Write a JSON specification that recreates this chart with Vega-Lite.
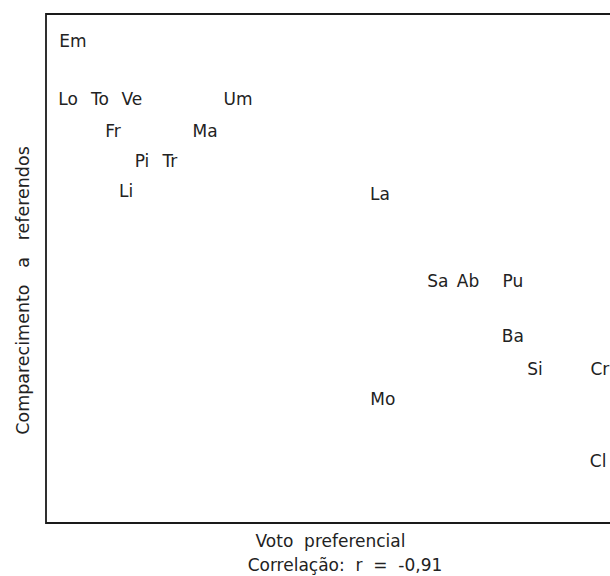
{
  "$schema": "https://vega.github.io/schema/vega-lite/v6.json",
  "width": 568,
  "height": 509,
  "autosize": {"type": "none"},
  "padding": {"left": 46, "top": 14, "right": 0, "bottom": 53},
  "background": "white",
  "config": {
    "view": {"stroke": "#1a1a1a", "strokeWidth": 1.8},
    "font": "DejaVu Sans"
  },
  "title": {
    "text": "Correlação:\u00a0\u00a0r\u00a0\u00a0=\u00a0\u00a0-0,91",
    "orient": "bottom", "anchor": "middle", "dx": 15, "offset": 9,
    "font": "DejaVu Sans", "fontSize": 17, "fontWeight": "normal", "color": "#222"
  },
  "data": {
    "values": [
      {"regiao": "Em", "voto": 4.75, "comparecimento": 94.5},
      {"regiao": "Lo", "voto": 3.9, "comparecimento": 83.1},
      {"regiao": "To", "voto": 9.5, "comparecimento": 83.1},
      {"regiao": "Ve", "voto": 15.1, "comparecimento": 83.1},
      {"regiao": "Um", "voto": 33.8, "comparecimento": 83.1},
      {"regiao": "Fr", "voto": 11.8, "comparecimento": 76.8},
      {"regiao": "Ma", "voto": 28.0, "comparecimento": 76.8},
      {"regiao": "Pi", "voto": 16.9, "comparecimento": 70.9},
      {"regiao": "Tr", "voto": 21.8, "comparecimento": 70.9},
      {"regiao": "Li", "voto": 14.1, "comparecimento": 65.0},
      {"regiao": "La", "voto": 58.8, "comparecimento": 64.4},
      {"regiao": "Sa", "voto": 69.0, "comparecimento": 47.3},
      {"regiao": "Ab", "voto": 74.3, "comparecimento": 47.3},
      {"regiao": "Pu", "voto": 82.2, "comparecimento": 47.3},
      {"regiao": "Ba", "voto": 82.2, "comparecimento": 36.5},
      {"regiao": "Si", "voto": 86.1, "comparecimento": 30.1},
      {"regiao": "Cr", "voto": 97.5, "comparecimento": 30.1},
      {"regiao": "Mo", "voto": 59.3, "comparecimento": 24.2},
      {"regiao": "Cl", "voto": 97.2, "comparecimento": 12.0}
    ]
  },
  "mark": {"type": "text", "fontSize": 17, "font": "DejaVu Sans", "color": "#222", "align": "center", "baseline": "middle"},
  "encoding": {
    "x": {
      "field": "voto", "type": "quantitative",
      "scale": {"domain": [0, 100], "nice": false, "zero": false},
      "axis": {
        "title": "Voto\u00a0\u00a0preferencial",
        "titleFont": "DejaVu Sans", "titleFontSize": 17, "titleFontWeight": "normal",
        "titleColor": "#222", "titlePadding": 10,
        "labels": false, "ticks": false, "domain": false, "grid": false
      }
    },
    "y": {
      "field": "comparecimento", "type": "quantitative",
      "scale": {"domain": [0, 100], "nice": false, "zero": false},
      "axis": {
        "title": "Comparecimento\u00a0\u00a0\u00a0a\u00a0\u00a0\u00a0referendos",
        "titleFont": "DejaVu Sans", "titleFontSize": 17.5, "titleFontWeight": "normal",
        "titleColor": "#222", "titleX": -23, "titleY": 276, "titleAngle": -90,
        "titleAlign": "center", "titleBaseline": "middle",
        "labels": false, "ticks": false, "domain": false, "grid": false
      }
    },
    "text": {"field": "regiao"}
  }
}
